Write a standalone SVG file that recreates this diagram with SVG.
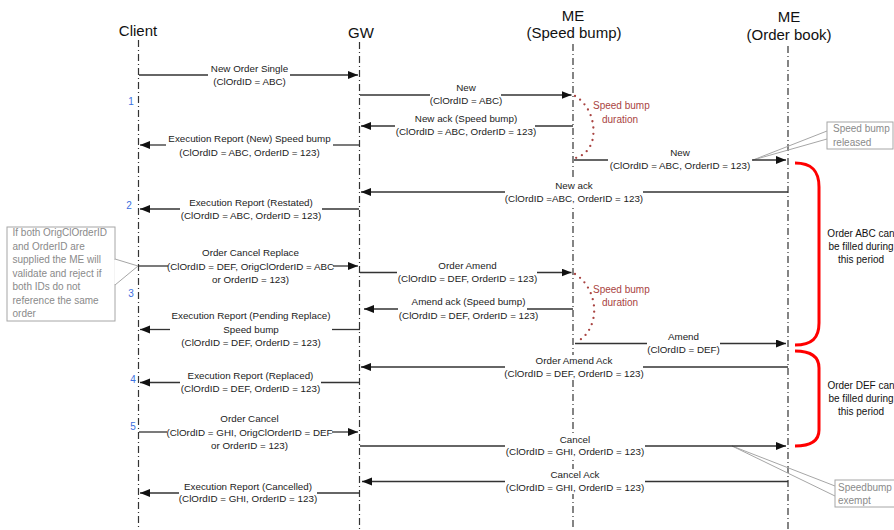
<svg xmlns="http://www.w3.org/2000/svg" width="894" height="530" viewBox="0 0 894 530">
<style>
.hdr{font-family:"Liberation Sans",Arial,sans-serif;font-size:15px;fill:#111;text-anchor:middle}
.lbl{font-family:"Liberation Sans",Arial,sans-serif;font-size:9.8px;fill:#222;text-anchor:middle}
.num{font-family:"Liberation Sans",Arial,sans-serif;font-size:10px;fill:#3b6fe0;text-anchor:middle}
.note{font-family:"Liberation Sans",Arial,sans-serif;font-size:10px;fill:#8a8a8a}
.sb{font-family:"Liberation Sans",Arial,sans-serif;font-size:10px;fill:#a94442}
.side{font-family:"Liberation Sans",Arial,sans-serif;font-size:10px;fill:#111;text-anchor:middle}
.life{stroke:#333;stroke-width:1.2;stroke-dasharray:7,3,1,3;fill:none}
.msg{stroke:#333;stroke-width:1.3;fill:none}
.arr{marker-end:url(#ah)}
.bg{fill:#fff;stroke:none}
.box{fill:#fff;stroke:#a6a6a6;stroke-width:1}
.call{stroke:#a6a6a6;stroke-width:1;fill:none}
.dots{stroke:#a94442;stroke-width:2.3;stroke-linecap:round;stroke-dasharray:0,6.3;fill:none}
.brace{stroke:#ff0000;stroke-width:3;fill:none}
</style>
<defs>
<marker id="ah" markerUnits="userSpaceOnUse" markerWidth="11" markerHeight="9" refX="10" refY="4" orient="auto">
<path d="M0,0 L10,4 L0,8 z" fill="#111"/>
</marker>
</defs>
<rect width="894" height="530" fill="#fff"/>

<g id="client">
<text class="hdr" x="138" y="36">Client</text>
<line class="life" x1="138.5" y1="40" x2="138.5" y2="530"/>
</g>
<g id="gw">
<text class="hdr" x="361" y="38">GW</text>
<line class="life" x1="359.5" y1="42" x2="359.5" y2="530"/>
</g>
<g id="me-speedbump">
<text class="hdr" x="573" y="20.5">ME</text>
<text class="hdr" x="574" y="37.5">(Speed bump)</text>
<line class="life" x1="573" y1="44" x2="573" y2="530"/>
</g>
<g id="me-orderbook">
<text class="hdr" x="789" y="22">ME</text>
<text class="hdr" x="789" y="39.5">(Order book)</text>
<line class="life" x1="788" y1="46" x2="788" y2="530"/>
</g>

<g id="steps">
<text class="num" x="131" y="105">1</text>
<text class="num" x="129" y="209">2</text>
<text class="num" x="131" y="297">3</text>
<text class="num" x="133" y="383">4</text>
<text class="num" x="133" y="430">5</text>
</g>

<g id="note-ids">
<rect class="box" x="7" y="227" width="108" height="94"/>
<path d="M115,259 L138,266 L115,285" fill="#fff" stroke="#a6a6a6" stroke-width="1"/>
<line x1="115" y1="260" x2="115" y2="284" stroke="#fff" stroke-width="1.5"/>
<text class="note" x="12.5" y="236">If both OrigClOrderID</text>
<text class="note" x="12.5" y="249.5">and OrderID are</text>
<text class="note" x="12.5" y="263">supplied the ME will</text>
<text class="note" x="12.5" y="276.5">validate and reject if</text>
<text class="note" x="12.5" y="290">both IDs do not</text>
<text class="note" x="12.5" y="303.5">reference the same</text>
<text class="note" x="12.5" y="317">order</text>
</g>

<g id="note-released">
<path class="call" d="M753,160 L827,131 M753,160 L827,139"/>
<rect class="box" x="827" y="122" width="66" height="27"/>
<text class="note" x="833" y="132">Speed bump</text>
<text class="note" x="833" y="145.5">released</text>
</g>

<g id="note-exempt">
<path class="call" d="M732,446 L835,486 M732,446 L835,496"/>
<rect class="box" x="835" y="480" width="70" height="27"/>
<text class="note" x="838" y="490.5">Speedbump</text>
<text class="note" x="838" y="503.5">exempt</text>
</g>

<g id="speedbump-1">
<path class="dots" d="M575,96 C590,105 596,124 592.5,140 C590,150 583,156 575.5,158"/>
<text class="sb" x="593" y="109">Speed bump</text>
<text class="sb" x="602" y="122.5">duration</text>
</g>
<g id="speedbump-2">
<path class="dots" d="M575,274 C591,284 597,305 593,320 C590,332 583,339 576,342"/>
<text class="sb" x="593" y="292.5">Speed bump</text>
<text class="sb" x="602" y="305.5">duration</text>
</g>

<g id="period-abc">
<path class="brace" d="M795,163 C812,163 819,171 819,187 L819,323 C819,338 812,345 795,345"/>
<text class="side" x="861" y="237">Order ABC can</text>
<text class="side" x="861" y="250">be filled during</text>
<text class="side" x="861" y="263">this period</text>
</g>
<g id="period-def">
<path class="brace" d="M795,351 C812,351 819,357 819,368 L819,430 C819,440 812,446 795,446"/>
<text class="side" x="861" y="388.5">Order DEF can</text>
<text class="side" x="861" y="401.5">be filled during</text>
<text class="side" x="861" y="414.5">this period</text>
</g>

<g id="connectors">
<g id="m1"><path class="msg" d="M139,75 H208"/><path class="msg arr" d="M290,75 H358"/>
<text class="lbl" x="249.5" y="72">New Order Single</text><text class="lbl" x="249.5" y="85">(ClOrdID = ABC)</text></g>
<g id="m2"><path class="msg" d="M360,95 H430"/><path class="msg arr" d="M501,95 H571.5"/>
<text class="lbl" x="466" y="91">New</text><text class="lbl" x="466" y="104">(ClOrdID = ABC)</text></g>
<g id="m3"><path class="msg" d="M573,126 H535"/><path class="msg arr" d="M395,126 H361"/>
<text class="lbl" x="466" y="122">New ack (Speed bump)</text><text class="lbl" x="466" y="135">(ClOrdID = ABC, OrderID = 123)</text></g>
<g id="m4"><path class="msg" d="M359,145 H333"/><path class="msg arr" d="M166,145 H140"/>
<text class="lbl" x="249.5" y="142">Execution Report (New) Speed bump</text><text class="lbl" x="249.5" y="155.5">(ClOrdID = ABC, OrderID = 123)</text></g>
<g id="m5"><path class="msg" d="M574,160 H608"/><path class="msg arr" d="M752,160 H786"/>
<text class="lbl" x="680" y="156">New</text><text class="lbl" x="680" y="169">(ClOrdID = ABC, OrderID = 123)</text></g>
<g id="m6"><path class="msg" d="M788,192 H643"/><path class="msg arr" d="M505,192 H361"/>
<rect class="bg" x="506" y="180" width="136" height="25"/>
<text class="lbl" x="574" y="188.5">New ack</text><text class="lbl" x="574" y="201.5">(ClOrdID =ABC, OrderID = 123)</text></g>
<g id="m7"><path class="msg" d="M359,209 H322"/><path class="msg arr" d="M180,209 H140"/>
<text class="lbl" x="251" y="206">Execution Report (Restated)</text><text class="lbl" x="251" y="219">(ClOrdID = ABC, OrderID = 123)</text></g>
<g id="m8"><path class="msg" d="M139,266 H168"/><path class="msg arr" d="M333,266 H358"/>
<text class="lbl" x="250.5" y="256">Order Cancel Replace</text><text class="lbl" x="250.5" y="269.5">(ClOrdID = DEF, OrigClOrderID = ABC</text><text class="lbl" x="250.5" y="283">or OrderID = 123)</text></g>
<g id="m9"><path class="msg" d="M360,272.5 H397"/><path class="msg arr" d="M537,272.5 H571.5"/>
<text class="lbl" x="467.5" y="269">Order Amend</text><text class="lbl" x="467.5" y="282">(ClOrdID = DEF, OrderID = 123)</text></g>
<g id="m10"><path class="msg" d="M573,309 H527"/><path class="msg arr" d="M398,309 H364"/>
<text class="lbl" x="468.5" y="305">Amend ack (Speed bump)</text><text class="lbl" x="468.5" y="319">(ClOrdID = DEF, OrderID = 123)</text></g>
<g id="m11"><path class="msg" d="M360,329.5 H332"/><path class="msg arr" d="M170,329.5 H140"/>
<text class="lbl" x="251" y="319">Execution Report (Pending Replace)</text><text class="lbl" x="251" y="333">Speed bump</text><text class="lbl" x="251" y="346">(ClOrdID = DEF, OrderID = 123)</text></g>
<g id="m12"><path class="msg" d="M575,343.5 H647"/><path class="msg arr" d="M720,343.5 H786"/>
<text class="lbl" x="683.5" y="339.5">Amend</text><text class="lbl" x="683.5" y="353">(ClOrdID = DEF)</text></g>
<g id="m13"><path class="msg" d="M788,367 H643"/><path class="msg arr" d="M505,367 H361"/>
<rect class="bg" x="506" y="355" width="136" height="25"/>
<text class="lbl" x="574" y="363.5">Order Amend Ack</text><text class="lbl" x="574" y="377">(ClOrdID = DEF, OrderID = 123)</text></g>
<g id="m14"><path class="msg" d="M360,382.5 H321"/><path class="msg arr" d="M180,382.5 H140"/>
<text class="lbl" x="250.5" y="379">Execution Report (Replaced)</text><text class="lbl" x="250.5" y="392">(ClOrdID = DEF, OrderID = 123)</text></g>
<g id="m15"><path class="msg" d="M139,432 H167"/><path class="msg arr" d="M332,432 H358"/>
<text class="lbl" x="249.5" y="422">Order Cancel</text><text class="lbl" x="249.5" y="435.5">(ClOrdID = GHI, OrigClOrderID = DEF</text><text class="lbl" x="249.5" y="449">or OrderID = 123)</text></g>
<g id="m16"><path class="msg" d="M360,446 H505"/><path class="msg arr" d="M645,446 H786"/>
<rect class="bg" x="506" y="434" width="138" height="24"/>
<text class="lbl" x="575" y="442.5">Cancel</text><text class="lbl" x="575" y="455">(ClOrdID = GHI, OrderID = 123)</text></g>
<g id="m17"><path class="msg" d="M788,481.5 H645"/><path class="msg arr" d="M505,481.5 H362"/>
<rect class="bg" x="506" y="469" width="138" height="25"/>
<text class="lbl" x="575" y="478">Cancel Ack</text><text class="lbl" x="575" y="490.5">(ClOrdID = GHI, OrderID = 123)</text></g>
<g id="m18"><path class="msg" d="M359,493 H317"/><path class="msg arr" d="M179,493 H140"/>
<text class="lbl" x="248" y="490">Execution Report (Cancelled)</text><text class="lbl" x="248" y="502">(ClOrdID = GHI, OrderID = 123)</text></g>
</g>
</svg>
